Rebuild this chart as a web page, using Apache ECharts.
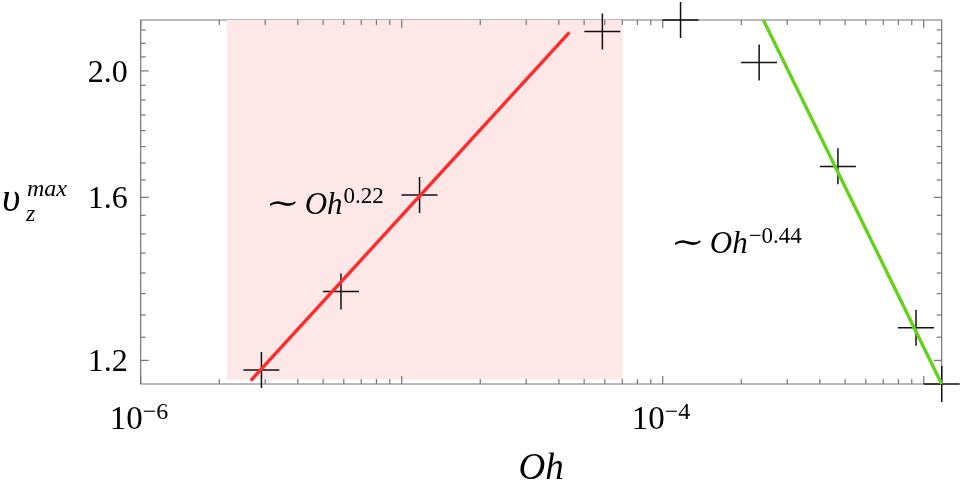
<!DOCTYPE html>
<html>
<head>
<meta charset="utf-8">
<script src="https://cdn.jsdelivr.net/npm/echarts@6.0.0/dist/echarts.min.js"></script>
<style>
  html, body { margin: 0; padding: 0; background: #fff; }
  #chart { width: 962px; height: 493px; }
</style>
</head>
<body>
<div id="chart"></div>
<script>
// measured maxima of v_z against Oh
const ohValues = [2.9e-6, 5.85e-6, 1.17e-5, 5.87e-5, 1.17e-4, 2.34e-4, 4.69e-4, 9.34e-4, 1.172e-3];
const vzValues = [1.180, 1.355, 1.607, 2.144, 2.188, 2.030, 1.690, 1.271, 1.151];

// power-law fits, end points as drawn
const fitLowOh = [2.64e-6, 4.39e-5];
const fitLowVz = [1.158, 2.141];
const fitHighOh = [2.43e-4, 1.172e-3];
const fitHighVz = [2.188, 1.151];

// shaded regime
const bandOh = [2.14e-6, 7.02e-5];
const bandVz = [1.160, 2.188];

// axes
const xRange = [1e-6, 1.172e-3];
const yRange = [1.151, 2.188];
const xMajorTicks = [1e-6, 1e-5, 1e-4, 1e-3];
const xMinorMultipliers = [2, 3, 4, 5, 6, 7, 8, 9];
const xTickLabels = [[1e-6, '\u22126'], [1e-4, '\u22124']];
const yTickLabels = [1.2, 1.6, 2.0];
const yMinorTicks = [1.25, 1.3, 1.35, 1.4, 1.45, 1.5, 1.55, 1.65, 1.7, 1.75, 1.8, 1.85, 1.9, 1.95, 2.05, 2.1, 2.15];

// scaling-law notes
const noteOh = [3.04e-6, 1.083e-4];
const noteVz = [1.551, 1.446];
const noteExps = ['0.22', '\u22120.44'];

const SERIF = '"Liberation Serif", "Times New Roman", "DejaVu Serif", serif';
const AXIS_COLOR = '#777';

const measureCtx = document.createElement('canvas').getContext('2d');
function textWidth(str, font) {
    measureCtx.font = font;
    return measureCtx.measureText(str).width;
}
function fontOf(size, italic, family) {
    return (italic ? 'italic ' : '') + size + 'px ' + (family || SERIF);
}
// text placed by its baseline
function textAt(x, baseline, str, size, italic, align, family) {
    return {
        type: 'text',
        x: x,
        y: baseline - 0.305 * size,
        style: {
            text: str,
            fill: '#000',
            font: fontOf(size, italic, family),
            align: align || 'left',
            verticalAlign: 'middle',
            textAlign: align || 'left',
            textVerticalAlign: 'middle'
        }
    };
}

const xTickData = [];
xMajorTicks.forEach(v => xTickData.push([v, yRange[0], 1]));
[-6, -5, -4].forEach(e => {
    xMinorMultipliers.forEach(m => {
        const v = m * Math.pow(10, e);
        if (v <= xRange[1]) xTickData.push([v, yRange[0], 0]);
    });
});
const yTickData = yTickLabels.map(v => [1e-5, v, 1]).concat(yMinorTicks.map(v => [1e-5, v, 0]));

function renderXTick(params, api) {
    const cs = params.coordSys;
    const x = api.coord([api.value(0), yRange[0]])[0];
    const len = api.value(2) ? 8 : 5;
    const style = { stroke: AXIS_COLOR, lineWidth: 1.2 };
    const bottom = cs.y + cs.height;
    return {
        type: 'group',
        children: [
            { type: 'line', shape: { x1: x, y1: bottom, x2: x, y2: bottom - len }, style: style },
            { type: 'line', shape: { x1: x, y1: cs.y, x2: x, y2: cs.y + len }, style: style }
        ]
    };
}

function renderYTick(params, api) {
    const cs = params.coordSys;
    const v = api.value(1);
    const y = api.coord([xRange[0], v])[1];
    const major = api.value(2) === 1;
    const len = major ? 8 : 5;
    const style = { stroke: AXIS_COLOR, lineWidth: 1.2 };
    const right = cs.x + cs.width;
    const children = [
        { type: 'line', shape: { x1: cs.x, y1: y, x2: cs.x + len, y2: y }, style: style },
        { type: 'line', shape: { x1: right, y1: y, x2: right - len, y2: y }, style: style }
    ];
    if (major) {
        children.push(textAt(cs.x - 13, y + 1.5 + 0.338 * 32, v.toFixed(1), 32, false, 'right'));
    }
    return { type: 'group', children: children };
}

function renderXLabel(params, api) {
    const cs = params.coordSys;
    const x = api.coord([xTickLabels[params.dataIndex][0], yRange[0]])[0];
    const bottom = cs.y + cs.height;
    return {
        type: 'group',
        children: [
            textAt(x + 2, bottom + 46.5, '10', 33, false, 'right'),
            textAt(x + 2, bottom + 36, xTickLabels[params.dataIndex][1], 24, false, 'left')
        ]
    };
}

function renderNote(params, api) {
    const p = api.coord([api.value(0), api.value(1)]);
    const ohX = p[0] + 38;
    const supX = ohX + textWidth('Oh', fontOf(31, true)) + 1;
    const tilde = textAt(p[0] - 1, p[1] - 1, '\u223C', 30, false, 'left', '"DejaVu Serif", serif');
    tilde.scaleX = 1.35;
    return {
        type: 'group',
        children: [
            tilde,
            textAt(ohX, p[1], 'Oh', 31, true, 'left'),
            textAt(supX, p[1] - 11, noteExps[params.dataIndex], 23, false, 'left')
        ]
    };
}

const chart = echarts.init(document.getElementById('chart'));

const option = {
    animation: false,
    backgroundColor: '#fff',
    grid: {
        left: 140.7,
        right: 20.3,
        top: 20,
        bottom: 108.7,
        show: true,
        borderColor: AXIS_COLOR,
        borderWidth: 1.2,
        backgroundColor: 'transparent'
    },
    xAxis: {
        type: 'log',
        logBase: 10,
        min: xRange[0],
        max: xRange[1],
        name: 'Oh',
        nameLocation: 'middle',
        nameGap: 67,
        nameTextStyle: { fontFamily: SERIF, fontStyle: 'italic', fontSize: 37, color: '#000' },
        axisLine: { show: false },
        axisTick: { show: false },
        axisLabel: { show: false },
        splitLine: { show: false }
    },
    yAxis: {
        type: 'log',
        logBase: 10,
        min: yRange[0],
        max: yRange[1],
        axisLine: { show: false },
        axisTick: { show: false },
        axisLabel: { show: false },
        splitLine: { show: false }
    },
    graphic: [
        textAt(2, 213, '\u03C5', 40, true, 'left'),
        textAt(27, 197, 'max', 24, true, 'left'),
        textAt(26, 222, 'z', 24, true, 'left')
    ],
    series: [
        {
            name: 'band',
            type: 'line',
            data: [],
            z: 0,
            markArea: {
                silent: true,
                itemStyle: { color: '#fde7e7' },
                data: [[{ coord: [bandOh[0], bandVz[0]] }, { coord: [bandOh[1], bandVz[1]] }]]
            }
        },
        {
            name: 'xTicks',
            type: 'custom',
            renderItem: renderXTick,
            data: xTickData,
            encode: { x: 0, y: 1 },
            silent: true,
            z: 1
        },
        {
            name: 'yTicks',
            type: 'custom',
            renderItem: renderYTick,
            data: yTickData,
            encode: { x: 0, y: 1 },
            silent: true,
            z: 1
        },
        {
            name: 'xLabels',
            type: 'custom',
            renderItem: renderXLabel,
            data: xTickLabels.map(t => [t[0], yRange[0]]),
            encode: { x: 0, y: 1 },
            silent: true,
            z: 1
        },
        {
            name: 'vzMax',
            type: 'scatter',
            data: ohValues.map((x, i) => [x, vzValues[i]]),
            symbol: 'path://M17.3,0h1.5v36h-1.5z M0,17.3h36v1.5h-36z',
            symbolSize: 36,
            itemStyle: { color: '#111', opacity: 1 },
            clip: false,
            silent: true,
            z: 2
        },
        {
            name: 'fitLow',
            type: 'line',
            data: fitLowOh.map((x, i) => [x, fitLowVz[i]]),
            showSymbol: false,
            lineStyle: { color: '#ff2a2a', width: 3.4 },
            silent: true,
            z: 3
        },
        {
            name: 'fitHigh',
            type: 'line',
            data: fitHighOh.map((x, i) => [x, fitHighVz[i]]),
            showSymbol: false,
            lineStyle: { color: '#66d11a', width: 3.4 },
            clip: false,
            silent: true,
            z: 3
        },
        {
            name: 'notes',
            type: 'custom',
            renderItem: renderNote,
            data: noteOh.map((x, i) => [x, noteVz[i]]),
            encode: { x: 0, y: 1 },
            silent: true,
            z: 4
        }
    ]
};

chart.setOption(option);
window.addEventListener('resize', function() {
    chart.resize();
});
</script>
</body>
</html>
